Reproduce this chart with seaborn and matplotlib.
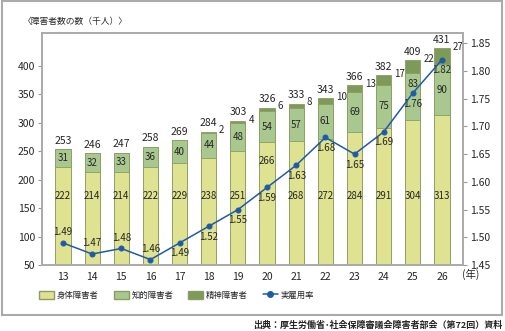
import numpy as np
import pandas as pd
import matplotlib
matplotlib.use('Agg')
import matplotlib.pyplot as plt
import matplotlib.patches as mpatches
from matplotlib.lines import Line2D
import seaborn as sns

sns.set_style('white')
plt.rcParams['font.family'] = ['Noto Sans CJK JP', 'DejaVu Sans']

# データ
years = ['13', '14', '15', '16', '17', '18', '19', '20', '21', '22', '23', '24', '25', '26']
shintai = [222, 214, 214, 222, 229, 238, 251, 266, 268, 272, 284, 291, 304, 313]
chiteki = [31, 32, 33, 36, 40, 44, 48, 54, 57, 61, 69, 75, 83, 90]
seishin = [0, 0, 0, 0, 0, 2, 4, 6, 8, 10, 13, 17, 22, 27]
totals = [253, 246, 247, 258, 269, 284, 303, 326, 333, 343, 366, 382, 409, 431]
rate = [1.49, 1.47, 1.48, 1.46, 1.49, 1.52, 1.55, 1.59, 1.63, 1.68, 1.65, 1.69, 1.76, 1.82]

c_shintai = '#dfe290'
c_chiteki = '#a8c890'
c_seishin = '#7d9a58'
c_edge = '#8c9c62'
c_line = '#1f5aa8'

df = pd.DataFrame({'year': years, 'shintai': shintai, 'chiteki': chiteki, 'seishin': seishin})
df['lvl2'] = df['shintai'] + df['chiteki']
df['lvl3'] = df['lvl2'] + df['seishin']

fig = plt.figure(figsize=(5.06, 3.31), dpi=100)
ax = fig.add_axes([0.083, 0.199, 0.832, 0.701])

# 積み上げ棒（累積を重ねて描く）
for col, c in [('lvl3', c_seishin), ('lvl2', c_chiteki), ('shintai', c_shintai)]:
    sns.barplot(data=df, x='year', y=col, color=c, width=0.52, edgecolor=c_edge,
                linewidth=0.6, saturation=1, ax=ax, zorder=2)

ax.set_ylim(50, 457)
ax.set_xlim(-0.72, 13.72)
ax.set_yticks([50, 100, 150, 200, 250, 300, 350, 400])
ax.set_xlabel('')
ax.set_ylabel('')
ax.tick_params(axis='both', labelsize=7.5, length=3, color='#999999', pad=2)
ax.tick_params(axis='x', length=0, pad=5)
for s in ax.spines.values():
    s.set_color('#aaaaaa')
    s.set_linewidth(1.2)

for i in range(len(years)):
    y_sh = 232 if i == 7 else 172   # 20年は折れ線ラベルを避ける
    ax.text(i, y_sh, str(shintai[i]), ha='center', va='center', fontsize=7)
    y_ch = shintai[i] + chiteki[i] / 2
    if i == 12:
        y_ch += 22
    ax.text(i, y_ch, str(chiteki[i]), ha='center', va='center', fontsize=7)
    if seishin[i] > 0:
        ax.annotate(str(seishin[i]), (i + 0.26, df['lvl3'][i]), xytext=(2, 1),
                    textcoords='offset points', ha='left', va='center', fontsize=7)
    ax.annotate(str(totals[i]), (i, df['lvl3'][i]), xytext=(0, 2.5),
                textcoords='offset points', ha='center', va='bottom', fontsize=7.5)

# 実雇用率（右軸）
ax2 = ax.twinx()
sns.pointplot(x=years, y=rate, color=c_line, markers='o', markersize=3.5,
              linewidth=1.1, ax=ax2, zorder=5)
ax2.set_ylim(1.45, 1.868)
ax2.set_xlim(-0.72, 13.72)
ax2.set_yticks([1.45, 1.50, 1.55, 1.60, 1.65, 1.70, 1.75, 1.80, 1.85])
ax2.set_yticklabels([f'{v:.2f}' for v in ax2.get_yticks()])
ax2.tick_params(axis='y', labelsize=7.5, length=3, color='#999999', pad=2)
for s in ax2.spines.values():
    s.set_color('#aaaaaa')
    s.set_linewidth(1.2)
for i, r in enumerate(rate):
    if i < 4:
        ax2.annotate(f'{r:.2f}', (i, r), xytext=(0, 4), textcoords='offset points',
                     ha='center', va='bottom', fontsize=7)
    else:
        ax2.annotate(f'{r:.2f}', (i, r), xytext=(0, -4), textcoords='offset points',
                     ha='center', va='top', fontsize=7)

fig.text(0.045, 0.934, '〈障害者数の数（千人）〉', fontsize=6.3, ha='left', va='center')
fig.text(0.913, 0.17, '(年)', fontsize=7.5, ha='left', va='center')

handles = [mpatches.Patch(facecolor=c_shintai, edgecolor=c_edge, label='身体障害者'),
           mpatches.Patch(facecolor=c_chiteki, edgecolor=c_edge, label='知的障害者'),
           mpatches.Patch(facecolor=c_seishin, edgecolor=c_edge, label='精神障害者'),
           Line2D([0], [0], color=c_line, marker='o', markersize=4, lw=1.1, label='実雇用率')]
fig.legend(handles=handles, loc='center left', bbox_to_anchor=(0.078, 0.108), ncol=4,
           frameon=False, fontsize=6, handlelength=1.8, handleheight=1.0,
           columnspacing=1.8, handletextpad=0.3, borderpad=0, borderaxespad=0)

# 外枠
fig.patches.append(mpatches.Rectangle((0.003, 0.048), 0.99, 0.948, transform=fig.transFigure,
                                      fill=False, edgecolor='#aaaaaa', linewidth=1.5))

fig.text(0.993, 0.018, '出典：厚生労働省･社会保障審議会障害者部会（第72回）資料', fontsize=6.5,
         ha='right', va='center', fontweight='bold')

fig.savefig('out.png', dpi=100)
